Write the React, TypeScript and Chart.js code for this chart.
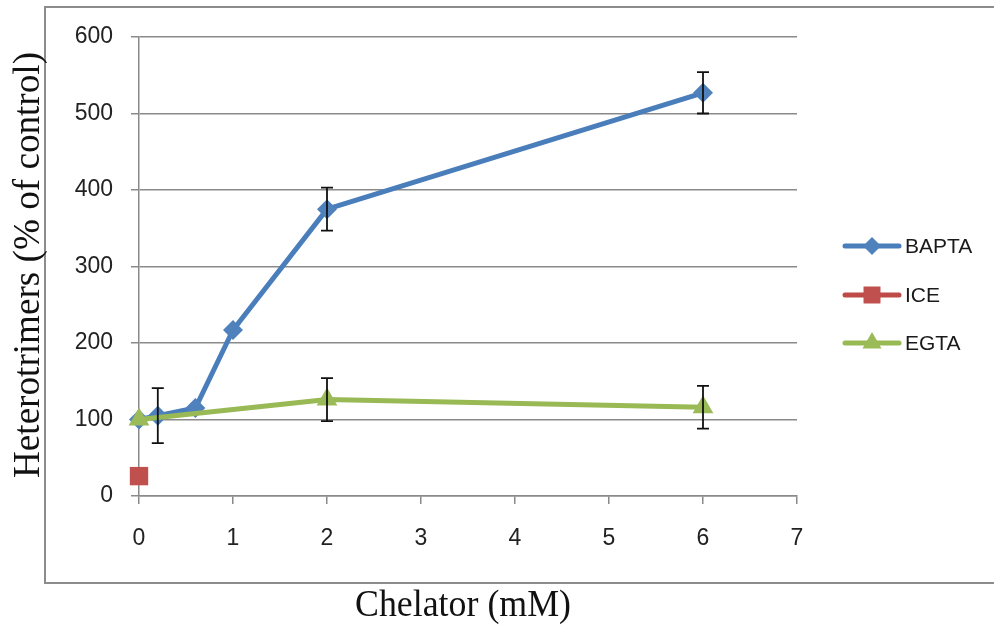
import React, { useEffect, useRef } from "react";
import { Chart, registerables } from "chart.js";

Chart.register(...registerables);

// Chelator concentration (mM) and heterotrimer level (% of control) per series
const seriesNames = ["BAPTA", "ICE", "EGTA"];
const baptaX = [0, 0.2, 0.6, 1, 2, 6];
const baptaY = [100, 105, 115, 217, 375, 527];
const baptaErr = [0, 36, 0, 0, 28, 27];
const iceX = [0];
const iceY = [26];
const iceErr = [0];
const egtaX = [0, 2, 6];
const egtaY = [100, 126, 116];
const egtaErr = [0, 28, 28];

const xTicks = [0, 1, 2, 3, 4, 5, 6, 7];
const yTicks = [0, 100, 200, 300, 400, 500, 600];

const xTitle = "Chelator (mM)";
const yTitle = "Heterotrimers (% of control)";

const lineColors = ["#4A7EBB", "#BE4B48", "#98B954"];
const markerColors = ["#4F81BD", "#C0504D", "#9BBB59"];
const markerStyles = ["rectRot", "rect", "triangle"] as const;
const markerRadii = [10, 13, 12];

const seriesX = [baptaX, iceX, egtaX];
const seriesY = [baptaY, iceY, egtaY];
const seriesErr = [baptaErr, iceErr, egtaErr];

const SANS = "'Liberation Sans', Arial, sans-serif";
const SERIF = "'Liberation Serif', 'Times New Roman', serif";
const GRID = "#8a8a8a";

function drawMarker(
  ctx: CanvasRenderingContext2D,
  style: string,
  x: number,
  y: number,
  r: number,
  color: string
) {
  ctx.save();
  ctx.fillStyle = color;
  ctx.beginPath();
  if (style === "rectRot") {
    ctx.moveTo(x, y - r);
    ctx.lineTo(x + r, y);
    ctx.lineTo(x, y + r);
    ctx.lineTo(x - r, y);
  } else if (style === "rect") {
    const h = r * Math.SQRT1_2;
    ctx.rect(x - h, y - h, 2 * h, 2 * h);
  } else {
    ctx.moveTo(x, y - r);
    ctx.lineTo(x + r * 0.866, y + r / 2);
    ctx.lineTo(x - r * 0.866, y + r / 2);
  }
  ctx.closePath();
  ctx.fill();
  ctx.restore();
}

// White page with the outer frame (top, left and bottom edges)
const framePlugin = {
  id: "frame",
  beforeDraw(chart: any) {
    const { ctx, width, height } = chart;
    ctx.save();
    ctx.fillStyle = "#ffffff";
    ctx.fillRect(0, 0, width, height);
    ctx.strokeStyle = "#8c8c8c";
    ctx.lineWidth = 2;
    ctx.beginPath();
    ctx.moveTo(width, 7);
    ctx.lineTo(45, 7);
    ctx.lineTo(45, 583);
    ctx.lineTo(width, 583);
    ctx.stroke();
    ctx.restore();
  },
};

// Vertical error bars with caps
const errorBarPlugin = {
  id: "errorBars",
  afterDatasetsDraw(chart: any) {
    const { ctx } = chart;
    const xs = chart.scales.x;
    const ys = chart.scales.y;
    ctx.save();
    ctx.strokeStyle = "#111111";
    ctx.lineWidth = 1.8;
    seriesErr.forEach((errs, s) => {
      errs.forEach((e, i) => {
        if (!e) return;
        const px = xs.getPixelForValue(seriesX[s][i]);
        const top = ys.getPixelForValue(seriesY[s][i] + e);
        const bot = ys.getPixelForValue(seriesY[s][i] - e);
        ctx.beginPath();
        ctx.moveTo(px, top);
        ctx.lineTo(px, bot);
        ctx.moveTo(px - 6, top);
        ctx.lineTo(px + 6, top);
        ctx.moveTo(px - 6, bot);
        ctx.lineTo(px + 6, bot);
        ctx.stroke();
      });
    });
    ctx.restore();
  },
};

function fitText(
  ctx: CanvasRenderingContext2D,
  text: string,
  targetWidth: number
) {
  const w = ctx.measureText(text).width;
  return w > 0 ? targetWidth / w : 1;
}

// Axis titles and the line-and-marker legend
const annotationPlugin = {
  id: "annotations",
  afterDraw(chart: any) {
    const { ctx } = chart;
    ctx.save();
    ctx.fillStyle = "#111111";
    ctx.font = `38px ${SERIF}`;
    ctx.textAlign = "center";
    ctx.textBaseline = "alphabetic";

    // x title
    let sx = fitText(ctx, xTitle, 216);
    ctx.save();
    ctx.translate(463, 616);
    ctx.scale(sx, 1);
    ctx.fillText(xTitle, 0, 0);
    ctx.restore();

    // y title
    sx = fitText(ctx, yTitle, 426);
    ctx.save();
    ctx.translate(39, 265);
    ctx.rotate(-Math.PI / 2);
    ctx.scale(sx, 1);
    ctx.fillText(yTitle, 0, 0);
    ctx.restore();

    // legend
    const legendY = [246, 295, 343];
    seriesNames.forEach((name, i) => {
      const y = legendY[i];
      ctx.strokeStyle = lineColors[i];
      ctx.lineWidth = 5;
      ctx.lineCap = "round";
      ctx.beginPath();
      ctx.moveTo(845, y);
      ctx.lineTo(899, y);
      ctx.stroke();
      drawMarker(ctx, markerStyles[i], 872, y, markerRadii[i] - 1, markerColors[i]);
      ctx.fillStyle = "#1a1a1a";
      ctx.font = `21px ${SANS}`;
      ctx.textAlign = "left";
      ctx.textBaseline = "middle";
      ctx.fillText(name, 905, y + 1);
    });
    ctx.restore();
  },
};

export default function App() {
  const canvasRef = useRef<HTMLCanvasElement | null>(null);

  useEffect(() => {
    const canvas = canvasRef.current;
    if (!canvas) return;

    const datasets = seriesNames.map((name, s) => ({
      label: name,
      data: seriesX[s].map((x, i) => ({ x, y: seriesY[s][i] })),
      borderColor: lineColors[s],
      backgroundColor: markerColors[s],
      borderWidth: 5,
      pointStyle: markerStyles[s],
      pointRadius: markerRadii[s],
      pointHoverRadius: markerRadii[s],
      pointBackgroundColor: markerColors[s],
      pointBorderColor: markerColors[s],
      pointBorderWidth: 0,
      showLine: seriesX[s].length > 1,
      tension: 0,
      clip: false as const,
      order: 3 - s,
    }));

    const chart = new Chart(canvas, {
      type: "scatter",
      data: { datasets },
      options: {
        responsive: false,
        animation: false,
        events: [],
        layout: { padding: { left: 0, top: 37, right: 197, bottom: 0 } },
        plugins: {
          legend: { display: false },
          tooltip: { enabled: false },
        },
        scales: {
          x: {
            type: "linear",
            min: xTicks[0],
            max: xTicks[xTicks.length - 1],
            afterFit: (s: any) => {
              s.height = 130;
            },
            afterBuildTicks: (s: any) => {
              s.ticks = xTicks.map((v) => ({ value: v }));
            },
            ticks: {
              padding: 21,
              color: "#222222",
              font: { family: SANS, size: 23 },
              autoSkip: false,
              maxRotation: 0,
            },
            grid: {
              drawOnChartArea: false,
              drawTicks: true,
              tickLength: 8,
              color: GRID,
              lineWidth: 1.5,
            },
            border: { display: true, color: GRID, width: 1.5 },
          },
          y: {
            type: "linear",
            min: yTicks[0],
            max: yTicks[yTicks.length - 1],
            afterFit: (s: any) => {
              s.width = 139;
            },
            afterBuildTicks: (s: any) => {
              s.ticks = yTicks.map((v) => ({ value: v }));
            },
            ticks: {
              padding: 18,
              color: "#222222",
              font: { family: SANS, size: 23 },
            },
            grid: {
              drawOnChartArea: true,
              drawTicks: true,
              tickLength: 8,
              color: GRID,
              lineWidth: 1.5,
            },
            border: { display: true, color: GRID, width: 1.5 },
          },
        },
      },
      plugins: [framePlugin, errorBarPlugin, annotationPlugin],
    });

    return () => chart.destroy();
  }, []);

  return (
    <div
      style={{
        position: "absolute",
        left: 0,
        top: 0,
        width: 994,
        height: 626,
        background: "#ffffff",
      }}
    >
      <canvas
        ref={canvasRef}
        width={994}
        height={626}
        style={{ display: "block", width: 994, height: 626 }}
      />
    </div>
  );
}
